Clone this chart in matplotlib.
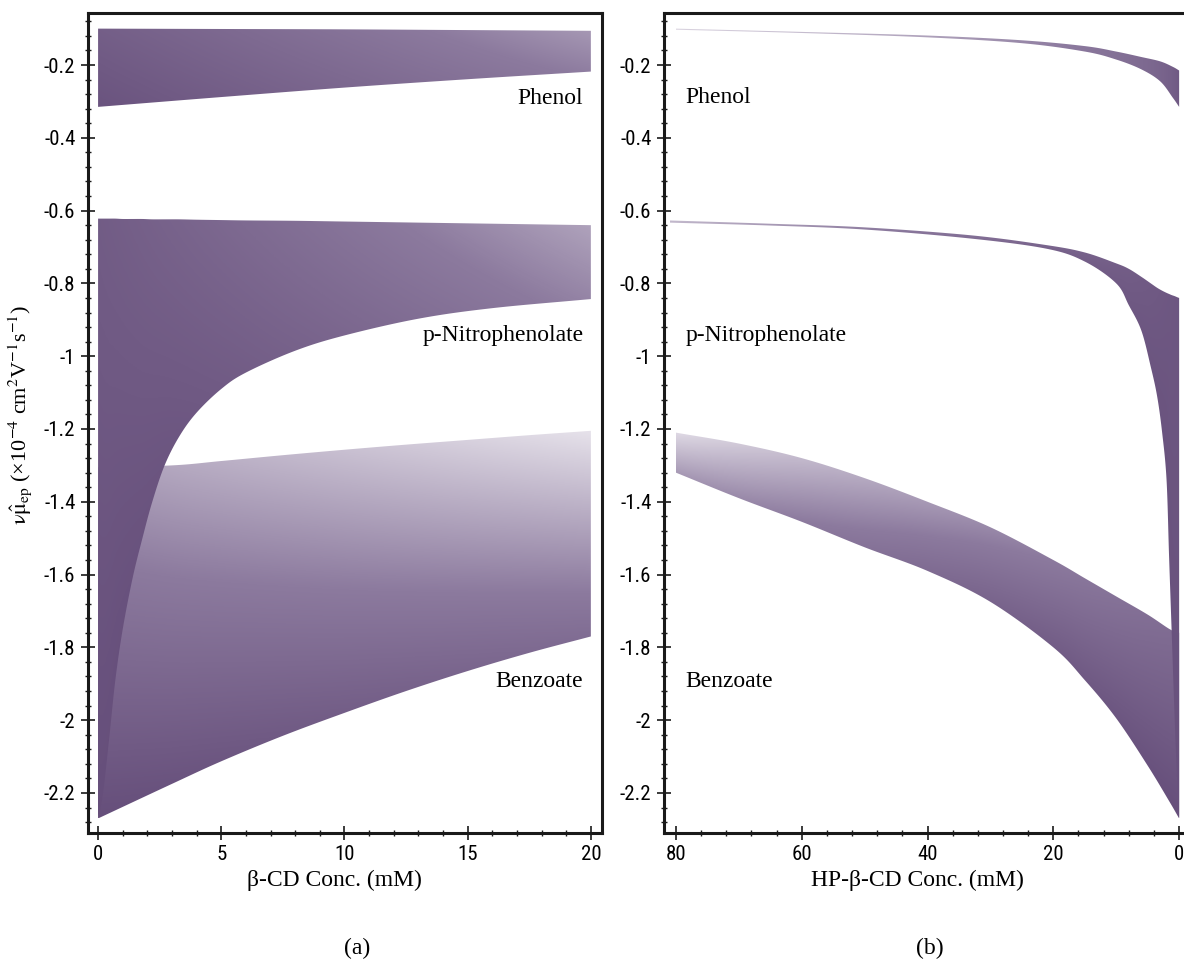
import numpy as np
import matplotlib
matplotlib.use('Agg')
import matplotlib.pyplot as plt
from matplotlib.colors import LinearSegmentedColormap
from matplotlib.ticker import MultipleLocator, FuncFormatter

plt.rcParams['font.family'] = ['Liberation Serif', 'DejaVu Serif']
plt.rcParams['mathtext.fontset'] = 'stix'
plt.rcParams['axes.unicode_minus'] = False

# ---- panel (a): beta-CD ----
a_phenol_x = [0, 5, 10, 15, 20]
a_phenol_hi = [-0.100, -0.101, -0.102, -0.104, -0.106]
a_phenol_lo = [-0.315, -0.288, -0.262, -0.239, -0.218]

a_nitro_x = [0, 0.2, 0.45, 0.7, 1.0, 1.4, 1.8, 2.2, 2.7, 3.3, 4, 5, 6, 8, 10, 13, 16, 20]
a_nitro_hi = [-0.622, -0.622, -0.622, -0.622, -0.623, -0.623, -0.623, -0.624,
              -0.624, -0.624, -0.625, -0.626, -0.627, -0.628, -0.630, -0.633,
              -0.636, -0.640]
a_nitro_lo = [-2.27, -2.20, -2.05, -1.89, -1.75, -1.61, -1.50, -1.40, -1.30,
              -1.22, -1.155, -1.09, -1.045, -0.985, -0.943, -0.897, -0.868, -0.843]

a_benz_x = [0, 3, 5, 7.5, 10, 12.5, 15, 17.5, 20]
a_benz_hi = [-1.305, -1.30, -1.288, -1.272, -1.257, -1.243, -1.23, -1.217, -1.205]
a_benz_lo = [-2.27, -2.175, -2.113, -2.043, -1.98, -1.92, -1.865, -1.815, -1.77]

# ---- panel (b): HP-beta-CD ----
b_phenol_x = [0, 1, 3, 6, 10, 15, 25, 40, 60, 80]
b_phenol_hi = [-0.215, -0.205, -0.19, -0.178, -0.163, -0.148, -0.132, -0.119, -0.109, -0.100]
b_phenol_lo = [-0.315, -0.29, -0.245, -0.212, -0.185, -0.163, -0.140, -0.124, -0.112, -0.103]

b_nitro_x = [0, 0.3, 0.7, 1.2, 1.6, 2.0, 2.7, 3.5, 4.5, 6, 8, 10, 15, 21, 33, 50, 65, 81]
b_nitro_hi = [-0.84, -0.838, -0.835, -0.832, -0.829, -0.826, -0.82, -0.812, -0.80,
              -0.782, -0.76, -0.745, -0.715, -0.695, -0.668, -0.646, -0.636, -0.627]
b_nitro_lo = [-2.27, -2.17, -2.0, -1.75, -1.55, -1.34, -1.21, -1.11, -1.03,
              -0.93, -0.86, -0.80, -0.74, -0.705, -0.677, -0.652, -0.641, -0.633]

b_benz_x = [0, 1.5, 5, 10, 15, 20, 30, 40, 50, 60, 70, 80]
b_benz_hi = [-1.76, -1.75, -1.71, -1.66, -1.61, -1.56, -1.47, -1.40, -1.335,
             -1.28, -1.24, -1.21]
b_benz_lo = [-2.27, -2.225, -2.125, -1.995, -1.89, -1.80, -1.675, -1.59, -1.525,
             -1.455, -1.39, -1.32]

a_ticks_x = [0, 5, 10, 15, 20]
b_ticks_x = [80, 60, 40, 20, 0]

cmap = LinearSegmentedColormap.from_list('cd', ['#624a77', '#8c7a9e', '#e8e4ec'])
tick_font = ['Liberation Sans Narrow', 'Roboto Condensed', 'Liberation Sans', 'DejaVu Sans']


def smooth_edge(x, y, sx, sy, n=30):
    # Catmull-Rom through the read-off points, done in screen-like units
    p = np.column_stack([np.asarray(x, float) / sx, np.asarray(y, float) / sy])
    p = np.vstack([2 * p[0] - p[1], p, 2 * p[-1] - p[-2]])
    out = []
    t = np.linspace(0, 1, n, endpoint=False)[:, None]
    for i in range(1, len(p) - 2):
        p0, p1, p2, p3 = p[i - 1], p[i], p[i + 1], p[i + 2]
        seg = 0.5 * ((2 * p1) + (-p0 + p2) * t + (2 * p0 - 5 * p1 + 4 * p2 - p3) * t ** 2
                     + (-p0 + 3 * p1 - 3 * p2 + p3) * t ** 3)
        out.append(seg)
    out.append(p[-2][None, :])
    out = np.vstack(out)
    ox = np.maximum.accumulate(out[:, 0] * sx)
    return ox, out[:, 1] * sy


def shade(ax, x, lo, hi, tfun, z, sx):
    sy = 2.25
    ux, uy = smooth_edge(x, hi, sx, sy)
    lx, ly = smooth_edge(x, lo, sx, sy)
    px = np.concatenate([ux, lx[::-1]])
    py = np.concatenate([uy, ly[::-1]])
    poly = ax.fill(px, py, facecolor='none', edgecolor='none')[0]
    x0, x1 = px.min(), px.max()
    y0, y1 = py.min(), py.max()
    gx = np.linspace(x0, x1, 600)
    gy = np.linspace(y0, y1, 600)
    X, Y = np.meshgrid(gx, gy)
    L = np.interp(X, lx, ly)
    H = np.interp(X, ux, uy)
    f = np.clip((Y - L) / (H - L + 1e-9), 0, 1)
    T = np.clip(tfun(X, f), 0, 1)
    im = ax.imshow(T, extent=[x0, x1, y0, y1], origin='lower', cmap=cmap,
                   vmin=0, vmax=1, aspect='auto', interpolation='bilinear', zorder=z)
    im.set_clip_path(poly)


def style(ax, xmaj, xmin):
    for s in ax.spines.values():
        s.set_linewidth(2.2)
        s.set_color('#1a1a1a')
    ax.xaxis.set_major_locator(MultipleLocator(xmaj))
    ax.xaxis.set_minor_locator(MultipleLocator(xmin))
    ax.yaxis.set_major_locator(MultipleLocator(0.2))
    ax.yaxis.set_minor_locator(MultipleLocator(0.04))
    ax.yaxis.set_major_formatter(FuncFormatter(lambda v, p: '%g' % round(v, 2)))
    ax.xaxis.set_major_formatter(FuncFormatter(lambda v, p: '%g' % round(v, 2)))
    ax.tick_params(which='major', direction='inout', length=10, width=1.2,
                   labelsize=15, labelfontfamily=tick_font, pad=4, color='#1a1a1a')
    ax.tick_params(which='minor', direction='inout', length=5, width=1.0, color='#1a1a1a')
    ax.tick_params(axis='x', which='both', top=False)
    ax.tick_params(axis='y', which='both', right=False)
    ax.set_ylim(-2.31, -0.057)


fig = plt.figure(figsize=(11.84, 9.61), dpi=100)

# panel (a)
ax1 = fig.add_axes([0.0743, 0.1332, 0.4341, 0.8533])
shade(ax1, a_benz_x, a_benz_lo, a_benz_hi, lambda X, f: 0.05 + 0.32 * X / 20 + 0.62 * f, 1, 20.9)
shade(ax1, a_nitro_x, a_nitro_lo, a_nitro_hi, lambda X, f: 0.05 + 0.5 * X / 20 + 0.14 * f, 2, 20.9)
shade(ax1, a_phenol_x, a_phenol_lo, a_phenol_hi, lambda X, f: 0.1 + 0.42 * X / 20 + 0.12 * f, 2, 20.9)
ax1.set_xlim(-0.41, 20.45)
style(ax1, 5, 1)
ax1.set_xticks(a_ticks_x)
ax1.text(19.7, -0.307, 'Phenol', ha='right', va='baseline', fontsize=17, zorder=5)
ax1.text(19.7, -0.957, 'p-Nitrophenolate', ha='right', va='baseline', fontsize=17, zorder=5)
ax1.text(19.7, -1.908, 'Benzoate', ha='right', va='baseline', fontsize=17, zorder=5)
ax1.set_xlabel('β-CD Conc. (mM)', fontsize=17)
ax1.xaxis.set_label_coords(0.48, -0.045)
ax1.set_ylabel(r'$\mathrm{\nu}\hat{\mathrm{\mu}}_{\mathrm{ep}}$ (×10$^{-4}$ cm$^{2}$V$^{-1}$s$^{-1}$)',
               fontsize=16)
ax1.yaxis.set_label_coords(-0.105, 0.51)

# panel (b)
ax2 = fig.add_axes([0.5608, 0.1332, 0.4421, 0.8533])
shade(ax2, b_benz_x, b_benz_lo, b_benz_hi, lambda X, f: 0.05 + 0.6 * X / 80 + 0.3 * f, 1, 83.2)
shade(ax2, b_nitro_x, b_nitro_lo, b_nitro_hi, lambda X, f: 0.08 + 0.7 * X / 80 + 0.05 * f, 2, 83.2)
shade(ax2, b_phenol_x, b_phenol_lo, b_phenol_hi, lambda X, f: 0.12 + 0.8 * np.sqrt(X / 80), 2, 83.2)
ax2.set_xlim(81.9, -1.32)
style(ax2, 20, 4)
ax2.set_xticks(b_ticks_x)
ax2.text(78.46, -0.303, 'Phenol', ha='left', va='baseline', fontsize=17, zorder=5)
ax2.text(78.46, -0.957, 'p-Nitrophenolate', ha='left', va='baseline', fontsize=17, zorder=5)
ax2.text(78.46, -1.908, 'Benzoate', ha='left', va='baseline', fontsize=17, zorder=5)
ax2.set_xlabel('HP-β-CD Conc. (mM)', fontsize=17)
ax2.xaxis.set_label_coords(0.485, -0.045)

fig.text(0.302, 1 - 948 / 961, '(a)', ha='center', va='center', fontsize=17)
fig.text(0.785, 1 - 948 / 961, '(b)', ha='center', va='center', fontsize=17)

fig.savefig('out.png', dpi=100, facecolor='white')
